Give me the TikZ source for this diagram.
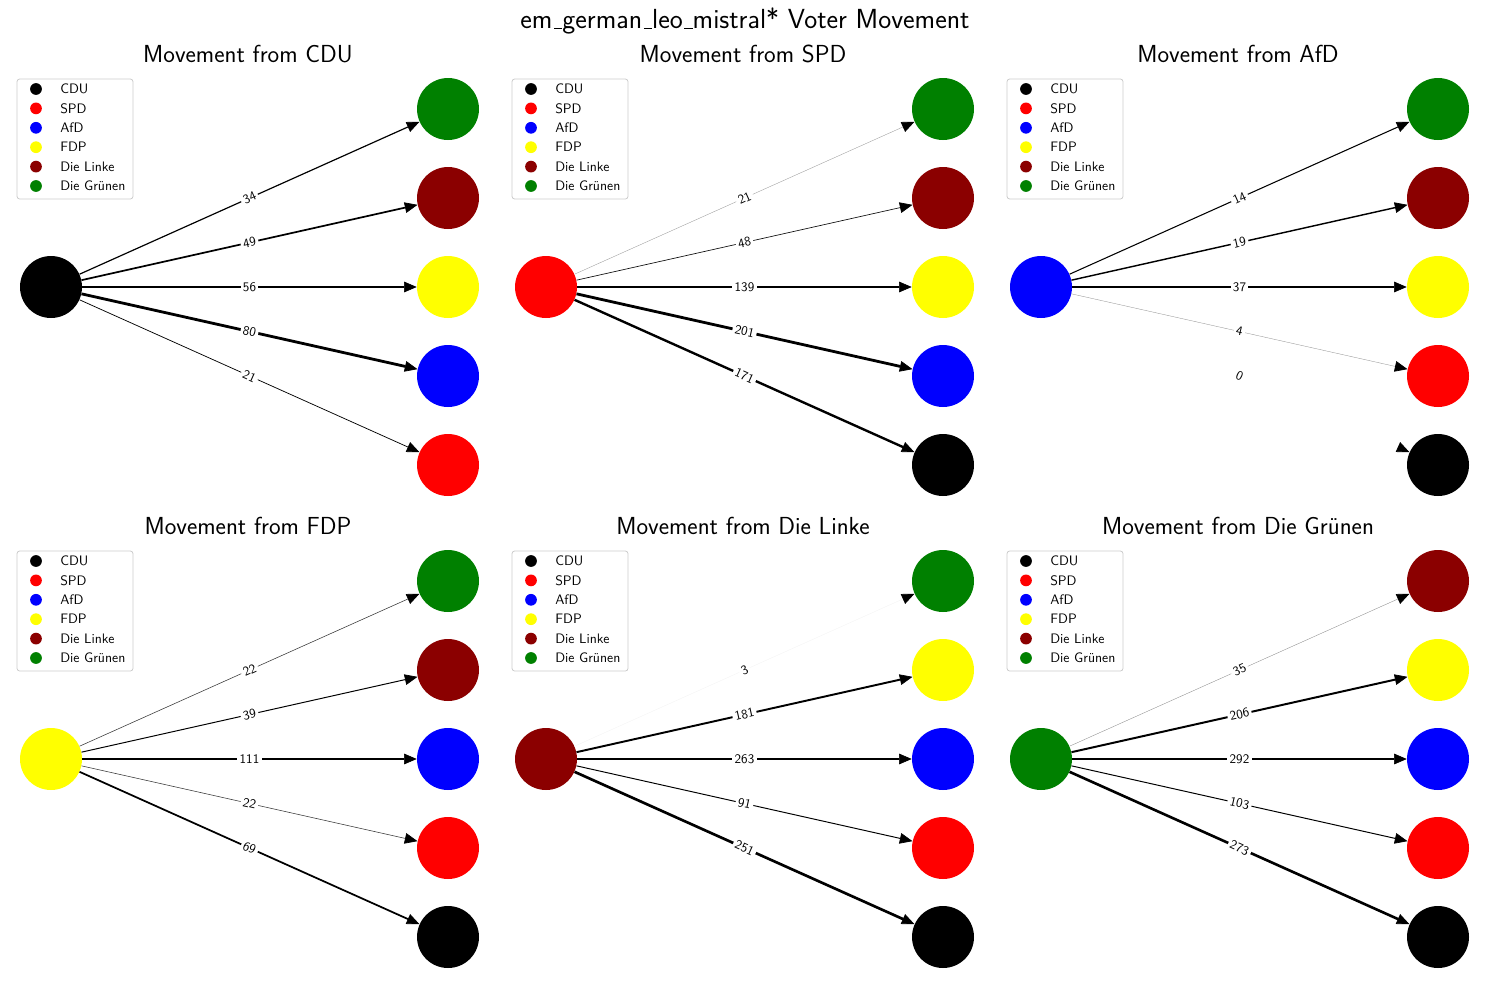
\documentclass[tikz,border=0pt]{standalone}
\usetikzlibrary{arrows.meta}
\definecolor{cdu}{RGB}{0,0,0}
\definecolor{spd}{RGB}{255,0,0}
\definecolor{afd}{RGB}{0,0,255}
\definecolor{fdp}{RGB}{255,255,0}
\definecolor{linke}{RGB}{139,0,0}
\definecolor{gruen}{RGB}{0,128,0}
\definecolor{legborder}{RGB}{204,204,204}
\newcommand\vmus{\leavevmode\kern.06em\vbox{\hrule width.3em}}
\tikzset{
  x=0.75pt, y=-0.75pt,
  mtitle/.style={font=\sffamily\fontsize{20.7}{23}\selectfont, inner sep=0pt},
  ptitle/.style={font=\sffamily\fontsize{18.5}{21}\selectfont, inner sep=0pt},
  legbox/.style={draw=legborder, line width=0.6pt, rounded corners=2pt, minimum width=87pt, minimum height=90pt, inner sep=0pt},
  legdot/.style={circle, minimum size=8.8pt, inner sep=0pt},
  legtext/.style={anchor=west, inner sep=0pt, font=\sffamily\fontsize{10.3}{12}\selectfont},
  pnode/.style={circle, minimum size=46.5pt, inner sep=0pt},
  elabel/.style={midway, sloped, fill=white, inner sep=1.8pt, font=\sffamily\fontsize{9.8}{11}\selectfont},
  flow/.style 2 args={/utils/exec={\pgfmathsetmacro\fr{#1/#2}\pgfmathsetmacro\fw{max(0.25,2.1*\fr)}\pgfmathsetmacro\fc{int((#1>0)*max(5,min(100,400*\fr)))}},
    line width=\fw pt, draw=black!\fc, -{Triangle[length=9.5pt,width=8pt,color=black,line width=0.5pt]}},
}
\newcommand\vmpanel[7]{%
\begin{scope}[shift={(#2,#3)}]
  \node[ptitle] (#1-title) at (248,54) {#4};
  \node[legbox] (#1-leg) at (75,139) {};
  \foreach \cl/\lb [count=\i] in {cdu/CDU,spd/SPD,afd/AfD,fdp/FDP,linke/Die Linke,gruen/Die Grünen} {
    \node[legdot, fill=\cl] (#1-lm\i) at (36, 69.6+19.4*\i) {};
    \node[legtext] (#1-lt\i) at (60, 69.6+19.4*\i) {\lb};
  }
  \node[pnode, fill=#5] (#1-s) at (51,287) {};
  \foreach \cl/\w [count=\i] in {#7} {
    \node[pnode, fill=\cl] (#1-t\i) at (448, 20+89*\i) {};
    \draw[flow={\w}{#6}] (#1-s) -- node[elabel]{\w} (#1-t\i);
  }
\end{scope}}
\begin{document}
\begin{tikzpicture}
\useasboundingbox (0,0) rectangle (1489,985);
\node[mtitle] (main) at (745,21) {em\vmus german\vmus leo\vmus mistral* Voter Movement};
\vmpanel{cdu}{0}{0}{Movement from CDU}{cdu}{80}{gruen/34,linke/49,fdp/56,afd/80,spd/21}
\vmpanel{spd}{495}{0}{Movement from SPD}{spd}{201}{gruen/21,linke/48,fdp/139,afd/201,cdu/171}
\vmpanel{afd}{990}{0}{Movement from AfD}{afd}{37}{gruen/14,linke/19,fdp/37,spd/4,cdu/0}
\vmpanel{fdp}{0}{472}{Movement from FDP}{fdp}{111}{gruen/22,linke/39,afd/111,spd/22,cdu/69}
\vmpanel{linke}{495}{472}{Movement from Die Linke}{linke}{263}{gruen/3,fdp/181,afd/263,spd/91,cdu/251}
\vmpanel{gruen}{990}{472}{Movement from Die Grünen}{gruen}{292}{linke/35,fdp/206,afd/292,spd/103,cdu/273}
\end{tikzpicture}
\end{document}
